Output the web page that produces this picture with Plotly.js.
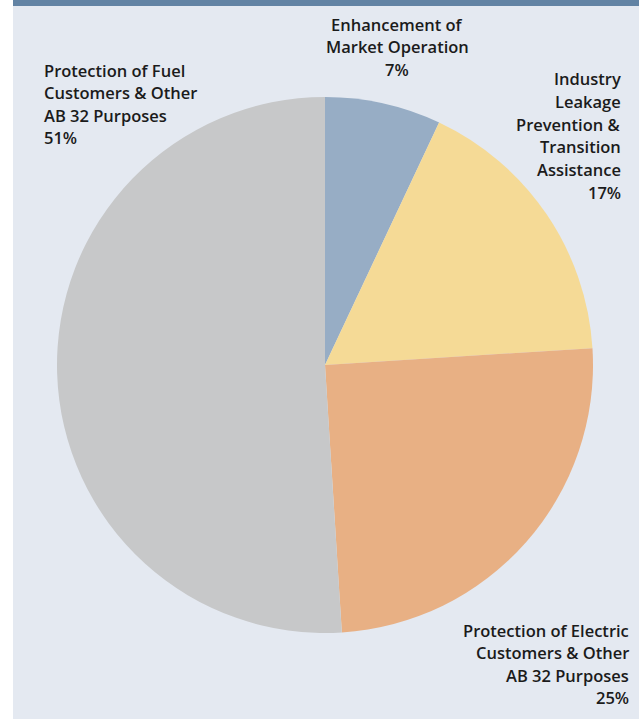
<!DOCTYPE html>
<html>
<head>
<meta charset="utf-8">
<script src="https://cdn.plot.ly/plotly-3.0.1.min.js"></script>
<style>
  html, body { margin: 0; padding: 0; background: #ffffff; }
  #chart { width: 639px; height: 719px; }
</style>
</head>
<body>
<div id="chart"></div>
<script>
// ---- Data ----
const categories = [
  "Enhancement of Market Operation",
  "Industry Leakage Prevention & Transition Assistance",
  "Protection of Electric Customers & Other AB 32 Purposes",
  "Protection of Fuel Customers & Other AB 32 Purposes"
];
const shares = [7, 17, 25, 51];
const labelLines = [
  ["Enhancement of", "Market Operation"],
  ["Industry", "Leakage", "Prevention &", "Transition", "Assistance"],
  ["Protection of Electric", "Customers & Other", "AB 32 Purposes"],
  ["Protection of Fuel", "Customers & Other", "AB 32 Purposes"]
];
const sliceColors = ["#97adc5", "#f5da96", "#e8b084", "#c7c8c9"];

// ---- Layout helpers (positions in pixels) ----
const W = 639, H = 719;
const labelPos = [
  {x: 397, y: 24, anchor: "center"},
  {x: 623, y: 79, anchor: "right"},
  {x: 631, y: 630, anchor: "right"},
  {x: 42,  y: 70, anchor: "left"}
];
const lineGap = 22.6;

const annotations = [];
labelLines.forEach((lines, i) => {
  const all = lines.concat([shares[i] + "%"]);
  all.forEach((t, j) => {
    annotations.push({
      xref: "paper", yref: "paper",
      x: labelPos[i].x / W,
      y: 1 - (labelPos[i].y + j * lineGap) / H,
      xanchor: labelPos[i].anchor, yanchor: "middle",
      text: t, showarrow: false,
      font: {family: "'Open Sans', sans-serif", size: 16.5, color: "#1b1b1b", weight: 600}
    });
  });
});

const cx = 325, cy = 365, r = 268;

const data = [{
  type: "pie",
  labels: categories,
  values: shares,
  sort: false,
  direction: "clockwise",
  rotation: 0,
  marker: {colors: sliceColors, line: {width: 0}},
  textinfo: "none",
  hoverinfo: "label+percent",
  showlegend: false,
  domain: {
    x: [(cx - r) / W, (cx + r) / W],
    y: [1 - (cy + r) / H, 1 - (cy - r) / H]
  }
}];

const layout = {
  width: W, height: H,
  margin: {l: 0, r: 0, t: 0, b: 0},
  paper_bgcolor: "#ffffff",
  showlegend: false,
  shapes: [
    {type: "rect", xref: "paper", yref: "paper", x0: 13 / W, x1: 1, y0: 0, y1: 1,
     fillcolor: "#e4e9f1", line: {width: 0}, layer: "below"},
    {type: "rect", xref: "paper", yref: "paper", x0: 13 / W, x1: 1, y0: 1 - 6 / H, y1: 1,
     fillcolor: "#6283a4", line: {width: 0}, layer: "below"}
  ],
  annotations: annotations
};

Plotly.newPlot("chart", data, layout, {staticPlot: true, displayModeBar: false});
</script>
</body>
</html>
